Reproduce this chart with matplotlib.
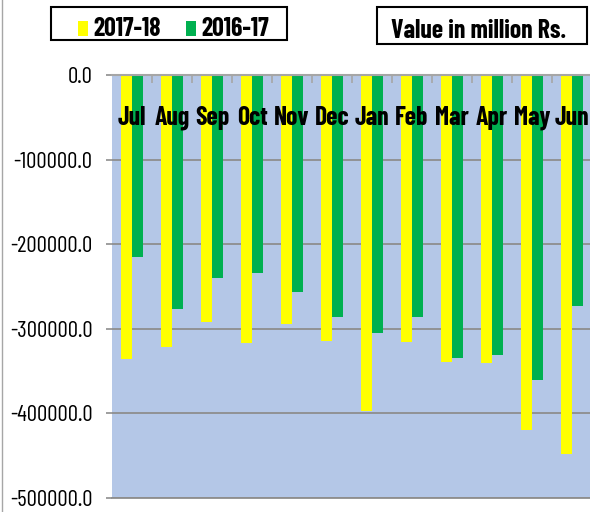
import matplotlib
matplotlib.use("Agg")
import matplotlib.pyplot as plt
import numpy as np
from matplotlib.patches import Rectangle
from matplotlib.lines import Line2D
from matplotlib.ticker import FuncFormatter, FixedLocator

# Data (million Rs.)
months = ["Jul", "Aug", "Sep", "Oct", "Nov", "Dec",
          "Jan", "Feb", "Mar", "Apr", "May", "Jun"]
series_names = ["2017-18", "2016-17"]
fy_2017_18 = [-336000, -322000, -292000, -317000, -294000, -314000,
              -397000, -316000, -339000, -341000, -420000, -448000]
fy_2016_17 = [-215000, -277000, -240000, -234000, -257000, -286000,
              -305000, -286000, -334000, -331000, -360000, -273000]
y_ticks = [0, -100000, -200000, -300000, -400000, -500000]

yellow = "#FFFF00"
green = "#00B050"
bg = "#B4C7E7"
grid_grey = "#8E8E8E"

plt.rcParams["font.family"] = ["Barlow Condensed", "Liberation Sans Narrow", "DejaVu Sans"]
plt.rcParams["axes.unicode_minus"] = False

W, H = 590, 512
fig = plt.figure(figsize=(W / 100, H / 100), dpi=100)
ax = fig.add_axes([112 / W, 1 - 498 / H, 478 / W, 423 / H])
ax.set_facecolor(bg)

x = np.arange(len(months))
bw = 0.275
ax.bar(x - bw / 2, fy_2017_18, width=bw, color=yellow, zorder=3)
ax.bar(x + bw / 2, fy_2016_17, width=bw, color=green, zorder=3)

ax.set_xlim(-0.5, 11.45)
ax.set_ylim(-500000, 0)

# y axis
ax.set_yticks(y_ticks)
ax.yaxis.set_major_formatter(FuncFormatter(lambda v, p: f"{v:.1f}"))
ax.tick_params(axis="y", length=4, width=1.2, color=grid_grey, pad=10,
               labelsize=16.5, labelcolor="black")
ax.grid(axis="y", color=grid_grey, linewidth=1.3, zorder=0)
ax.set_axisbelow(True)

# x axis sits at the top (value 0), ticks at category boundaries
ax.xaxis.set_major_locator(FixedLocator(x[:-1] + 0.5))
ax.xaxis.tick_top()
ax.tick_params(axis="x", direction="in", length=6, width=1.2,
               color="#A6A6A6", labeltop=False, labelbottom=False)
for s in ["left", "right"]:
    ax.spines[s].set_visible(False)
ax.spines["top"].set_color("#A6A6A6")
ax.spines["top"].set_linewidth(1.5)
ax.spines["top"].set_zorder(4)
ax.spines["bottom"].set_color(grid_grey)
ax.spines["bottom"].set_linewidth(1.3)

for i, m in enumerate(months):
    ax.text(i, 0.882, m, transform=ax.get_xaxis_transform(), ha="center",
            va="baseline", fontsize=18.5, fontweight="bold", color="black",
            zorder=5)

# legend box
def px(xp, yp):
    return xp / W, 1 - yp / H

fig.add_artist(Rectangle(px(51, 40), 236 / W, 33 / H, transform=fig.transFigure,
                         facecolor="white", edgecolor="black", linewidth=1.5))
for (sx, tx), name, col in zip([(78, 93), (186, 201)], series_names, [yellow, green]):
    fig.add_artist(Rectangle(px(sx, 36), 10 / W, 15 / H, transform=fig.transFigure,
                             facecolor=col, edgecolor="none"))
    fig.text(*px(tx, 36.5), name, ha="left", va="baseline", fontsize=18.5,
             fontweight="bold")

# units box
fig.add_artist(Rectangle(px(377, 44), 210 / W, 37 / H, transform=fig.transFigure,
                         facecolor="white", edgecolor="black", linewidth=1.5))
fig.text(*px(479, 38), "Value in million Rs.", ha="center", va="baseline",
         fontsize=18.5, fontweight="bold")

# chart area border on the left
fig.add_artist(Line2D([2 / W, 2 / W], [0, 1], transform=fig.transFigure,
                      color="#A6A6A6", linewidth=1))

fig.savefig("out.png", dpi=100)
